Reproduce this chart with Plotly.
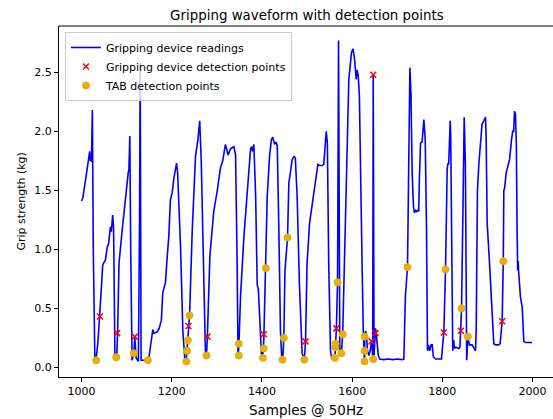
import plotly.graph_objects as go

# Gripping device readings (sample index, grip strength in kg)
reading_x = [1000, 1003, 1009, 1015, 1018, 1019.5, 1021, 1022, 1024, 1026, 1029.5, 1032, 1036, 1040,
             1047, 1053, 1057, 1060, 1064, 1066, 1069, 1071, 1074, 1077, 1078, 1080, 1083, 1090,
             1097.5, 1103.5, 1105, 1107, 1109, 1112, 1116, 1118, 1121, 1126, 1128.5, 1130, 1132,
             1145, 1150, 1153, 1158, 1160, 1168, 1172, 1177, 1180, 1183, 1186, 1190, 1193.5, 1197,
             1201, 1204.6, 1208, 1210.6, 1213, 1219.5, 1224.6, 1229, 1232, 1234, 1235.7, 1237,
             1239.5, 1245.4, 1252.7, 1258, 1262, 1265.5, 1271, 1275, 1277, 1279, 1284.5, 1289.7,
             1293, 1301, 1308, 1313, 1319, 1325, 1330, 1337.7, 1341.5, 1345, 1347, 1349, 1352.5,
             1360, 1367, 1374.7, 1377, 1379, 1382, 1386, 1389.5, 1392, 1399, 1401, 1404, 1408.6,
             1411.7, 1416.8, 1421, 1424, 1428, 1431.6, 1434, 1437.5, 1441, 1444, 1446, 1448.5,
             1451, 1456.7, 1459.6, 1463, 1467, 1471.5, 1474, 1478, 1483, 1489, 1494, 1496.6, 1500,
             1505.5, 1513, 1519, 1524, 1528, 1533, 1537, 1539.5, 1542.5, 1545, 1548, 1552, 1555,
             1558, 1561.6, 1563, 1565, 1567.6, 1569.8, 1572.6, 1576, 1579, 1584, 1589, 1592.6,
             1598.6, 1602, 1605, 1609, 1611, 1613.5, 1616, 1619, 1622, 1624.6, 1626, 1627.4, 1628,
             1630, 1632, 1634, 1637, 1640, 1643, 1644, 1645.5, 1646.7, 1648.5, 1650, 1651.8, 1653,
             1655, 1658, 1661, 1670, 1680, 1690, 1700, 1710, 1714.6, 1718, 1722.7, 1725.6, 1728,
             1730.5, 1733, 1736, 1738, 1741, 1743, 1745.6, 1747.5, 1749, 1751.6, 1755, 1757.5,
             1759, 1762, 1764.9, 1767, 1769, 1772, 1775, 1777.5, 1780, 1785, 1798, 1803.3, 1807,
             1810.7, 1812.5, 1814, 1817.4, 1818.5, 1820, 1823, 1825, 1827, 1830, 1836.4, 1839,
             1841, 1842.5, 1845, 1848.4, 1851, 1852.8, 1854, 1856.5, 1858, 1860, 1866, 1870,
             1873.5, 1875, 1877.8, 1881, 1884.6, 1888, 1892, 1895.7, 1897, 1899.4, 1904.6, 1910.5,
             1914, 1918, 1925, 1928, 1932.6, 1935, 1936.3, 1938, 1941.5, 1945, 1949, 1953.3, 1956,
             1958, 1960, 1962, 1964, 1965.7, 1967, 1968, 1969, 1973, 1977, 1980.6, 1984, 1990, 1999]
reading_y = [1.41, 1.44, 1.59, 1.73, 1.83, 1.75, 1.80, 1.74, 2.18, 1.0, 0.075, 0.06, 0.2, 0.43,
             0.87, 0.91, 1.02, 1.05, 1.19, 1.15, 1.29, 1.19, 0.1, 0.085, 0.07, 0.3, 0.88, 1.16,
             1.45, 1.65, 1.67, 1.96, 1.0, 0.06, 0.12, 0.26, 0.08, 0.05, 1.2, 2.58, 0.06,
             0.06, 0.1, 0.17, 0.32, 0.29, 0.3, 0.33, 0.4, 0.63, 0.69, 0.72, 0.94, 1.11, 1.42,
             1.48, 1.6, 1.68, 1.73, 1.65, 1.02, 0.31, 0.07, 0.05, 0.14, 0.23, 0.35,
             0.44, 1.16, 1.79, 1.93, 2.09, 1.73, 0.6, 0.07, 0.1, 0.26, 0.94, 1.22,
             1.32, 1.5, 1.69, 1.75, 1.89, 1.8, 1.85, 1.87, 1.8, 0.88, 0.07, 0.2, 0.6,
             1.11, 1.5, 1.85, 1.87, 1.83, 1.89, 1.45, 0.7, 0.66, 0.1, 0.07, 0.22, 0.84,
             1.45, 1.79, 1.93, 1.95, 1.89, 1.91, 1.87, 1.16, 0.31, 0.07, 0.065, 0.25,
             0.82, 1.1, 1.56, 1.65, 1.76, 1.79, 1.77, 1.45, 0.71, 0.12, 0.065, 0.22, 0.88,
             1.22, 1.43, 1.59, 1.72, 1.71, 1.71, 1.72, 1.9, 2.0, 1.9, 0.88, 0.14, 0.07,
             0.09, 0.08, 0.17, 0.33, 0.72, 2.77, 0.14, 0.12, 0.28, 1.16, 1.87, 2.44,
             2.67, 2.7, 2.62, 2.44, 2.52, 2.47, 2.3, 1.73, 0.88, 0.31, 0.06, 0.05, 0.26,
             0.31, 0.26, 0.14, 0.1, 0.14, 0.22, 0.2, 0.08, 2.48, 0.1, 0.22, 0.33, 0.3,
             0.23, 0.1, 0.07, 0.065, 0.07, 0.065, 0.07, 0.065, 0.07, 0.6, 0.85, 2.02, 2.54,
             2.3, 1.65, 1.36, 1.31, 1.33, 1.32, 1.33, 1.32, 1.59, 1.9, 1.91, 2.1,
             2.1, 1.93, 1.16, 0.14, 0.19, 0.14, 0.19, 0.19, 0.09, 0.07, 0.07, 0.3, 0.83,
             1.68, 1.73, 1.72, 2.09, 1.96, 1.16, 0.14, 0.23, 0.16, 0.17, 0.16, 0.17,
             0.31, 0.5, 1.16, 2.12, 1.73, 0.31, 0.06, 0.26, 0.23, 0.19, 0.19, 0.16,
             0.14, 0.31, 1.5, 1.73, 1.9, 2.06, 2.09, 2.12, 1.96, 1.22, 0.88, 0.43,
             0.2, 0.19, 0.19, 0.2, 0.39, 0.9, 1.5, 1.52, 1.65, 1.7, 1.76, 1.93, 2.0,
             2.0, 2.17, 2.15, 1.9, 1.16, 0.82, 0.9, 0.82, 0.6, 0.51, 0.22, 0.21, 0.21, 0.21]

# Gripping device detection points
device_x = [1040.6, 1079, 1118, 1237, 1279, 1404, 1496.6, 1565, 1643, 1646.7, 1651.8, 1803.3, 1841, 1932.6]
device_y = [0.43, 0.29, 0.26, 0.35, 0.26, 0.28, 0.22, 0.33, 0.22, 2.48, 0.29, 0.295, 0.31, 0.39]

# TAB detection points
tab_x = [1032.5, 1077, 1116, 1147, 1232, 1234, 1235.7, 1239.5, 1277, 1348.7, 1348.7, 1402, 1404,
         1408.6, 1445.6, 1448.5, 1456.7, 1494, 1561.6, 1563, 1563.5, 1567.6, 1576, 1579, 1627.4,
         1627.6, 1627.8, 1646.7, 1722.7, 1807, 1842.5, 1856.5, 1935]
tab_y = [0.06, 0.085, 0.12, 0.06, 0.05, 0.14, 0.23, 0.44, 0.1, 0.1, 0.2, 0.08, 0.16,
         0.84, 0.065, 0.25, 1.1, 0.065, 0.08, 0.17, 0.2, 0.72, 0.12, 0.28, 0.05,
         0.14, 0.26, 0.07, 0.85, 0.83, 0.5, 0.26, 0.9]

x_tick_vals = [1000, 1200, 1400, 1600, 1800, 2000]
y_tick_vals = [0.0, 0.5, 1.0, 1.5, 2.0, 2.5]

FONT = "DejaVu Sans"

fig = go.Figure()
fig.add_trace(go.Scatter(x=reading_x, y=reading_y, mode="lines",
                         line=dict(color="#0000ff", width=1.6),
                         name="Gripping device readings"))
fig.add_trace(go.Scatter(x=device_x, y=device_y, mode="markers",
                         marker=dict(symbol="x-thin", size=6, color="red",
                                     line=dict(color="red", width=1.5)),
                         name="Gripping device detection points"))
fig.add_trace(go.Scatter(x=tab_x, y=tab_y, mode="markers",
                         marker=dict(symbol="circle", size=7, color="#ffa500",
                                     line=dict(color="#bfbf00", width=1)),
                         name="TAB detection points"))

fig.update_layout(
    width=553, height=419,
    margin=dict(l=59, r=0, t=26, b=42),
    paper_bgcolor="white", plot_bgcolor="white",
    font=dict(family=FONT, size=11, color="black"),
    showlegend=True,
    legend=dict(x=0.012, y=0.983, xanchor="left", yanchor="top",
                bgcolor="rgba(255,255,255,0.8)", bordercolor="#cccccc", borderwidth=1,
                font=dict(family=FONT, size=11, color="black"),
                itemwidth=30, tracegroupgap=0),
    title=dict(text="Gripping waveform with detection points",
               x=0.555, xref="container", xanchor="center",
               y=1 - 15 / 419, yref="container", yanchor="middle",
               font=dict(family=FONT, size=13.4, color="black")),
    xaxis=dict(range=[950, 2045.3], tickvals=x_tick_vals, ticks="outside", ticklen=4,
               tickcolor="black", showline=True, linecolor="black", linewidth=1,
               showgrid=False, zeroline=False, tickfont=dict(size=11)),
    yaxis=dict(range=[-0.082, 2.893], tickvals=y_tick_vals, tickformat=".1f",
               ticks="outside", ticklen=4, tickcolor="black", showline=True,
               linecolor="black", linewidth=1, showgrid=False, zeroline=False,
               tickfont=dict(size=11)),
    annotations=[
        dict(text="Samples @ 50Hz", xref="paper", yref="paper", x=0.5, y=-(410 - 377) / 351,
             xanchor="center", yanchor="middle", showarrow=False,
             font=dict(family=FONT, size=13.5, color="black")),
        dict(text="Grip strength (kg)", xref="paper", yref="paper", x=-(59 - 21) / 494, y=0.5,
             xanchor="center", yanchor="middle", textangle=-90, showarrow=False,
             font=dict(family=FONT, size=11, color="black")),
    ],
    shapes=[dict(type="line", xref="paper", yref="paper", x0=0, x1=1, y0=1, y1=1,
                 line=dict(color="black", width=1))],
)

fig.write_html("out.html")
